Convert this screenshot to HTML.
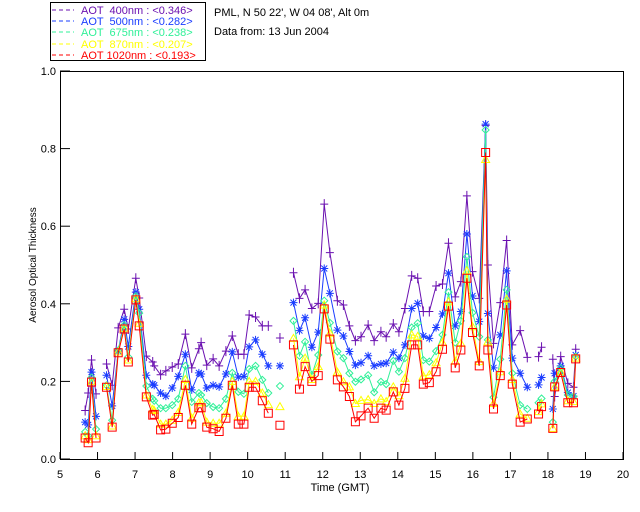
<!DOCTYPE html>
<html><head><meta charset="utf-8"><style>
body{margin:0;background:#fff;}
svg{display:block;font-family:"Liberation Sans",sans-serif;}
</style></head><body>
<svg id="chart" width="640" height="512" viewBox="0 0 640 512">
  <rect width="640" height="512" fill="#fff"/>
  <g font-size="11">
    <rect x="50.5" y="2.5" width="155" height="58" fill="#fff" stroke="#000"/>
    <g fill="#6a10b0"><line x1="52" y1="10" x2="74" y2="10" stroke="#6a10b0" stroke-dasharray="4,3"/><text x="81" y="14" xml:space="preserve">AOT  400nm : &lt;0.346&gt;</text></g>
    <g fill="#1a3cff"><line x1="52" y1="21" x2="74" y2="21" stroke="#1a3cff" stroke-dasharray="4,3"/><text x="81" y="25" xml:space="preserve">AOT  500nm : &lt;0.282&gt;</text></g>
    <g fill="#30f098"><line x1="52" y1="32" x2="74" y2="32" stroke="#30f098" stroke-dasharray="4,3"/><text x="81" y="36" xml:space="preserve">AOT  675nm : &lt;0.238&gt;</text></g>
    <g fill="#ffff00"><line x1="52" y1="44" x2="74" y2="44" stroke="#ffff00" stroke-dasharray="4,3"/><text x="81" y="48" xml:space="preserve">AOT  870nm : &lt;0.207&gt;</text></g>
    <g fill="#ff0000"><line x1="52" y1="55" x2="74" y2="55" stroke="#ff0000" stroke-dasharray="4,3"/><text x="81" y="59" xml:space="preserve">AOT 1020nm : &lt;0.193&gt;</text></g>
  </g>
  <text x="214" y="16" font-size="11">PML, N 50 22', W 04 08', Alt 0m</text>
  <text x="214" y="35" font-size="11">Data from: 13 Jun 2004</text>
  <rect x="60.5" y="71.5" width="563" height="388" fill="none" stroke="#000"/>
  <g id="axes" font-size="11"></g>
  <g id="series"></g>
  <text x="340" y="491" font-size="11" text-anchor="middle">Time (GMT)</text>
  <text transform="translate(36,265) rotate(-90)" font-size="10" text-anchor="middle">Aerosol Optical Thickness</text>
</svg>
<script>
const times=[5.67,5.75,5.84,5.96,6.24,6.39,6.55,6.71,6.82,7.02,7.11,7.30,7.47,7.51,7.68,7.82,7.99,8.15,8.34,8.51,8.70,8.76,8.91,9.08,9.24,9.42,9.59,9.75,9.90,10.04,10.21,10.39,10.55,10.86,
11.22,11.38,11.53,11.71,11.88,12.04,12.19,12.39,12.55,12.71,12.87,13.02,13.21,13.37,13.55,13.69,13.88,14.03,14.19,14.37,14.53,14.68,14.84,15.02,15.19,15.35,15.53,
15.68,15.84,15.99,16.17,16.34,16.40,16.55,16.73,16.90,17.05,17.26,17.45,17.75,17.83,18.13,18.18,18.34,18.53,18.68,18.74];
const aot400=[.125,.17,.255,.168,.245,.19,.338,.386,.335,.466,.415,.265,.25,.24,.217,.227,.237,.245,.322,.235,.284,.30,.242,.258,.24,.278,.317,.27,.27,.371,.366,.343,.343,.312,
.48,.414,.436,.388,.401,.657,.532,.408,.397,.343,.305,.315,.345,.305,.328,.315,.348,.328,.388,.472,.466,.38,.38,.446,.451,.556,.418,
.457,.678,.483,.414,.86,.5,.298,.403,.563,.294,.331,.262,.264,.288,.257,.161,.264,.195,.185,.283];
const aot500=[.095,.088,.224,.11,.216,.137,.278,.36,.29,.43,.386,.216,.193,.19,.17,.162,.183,.213,.27,.178,.222,.219,.183,.19,.186,.219,.276,.211,.213,.289,.307,.27,.24,.24,
.403,.331,.364,.288,.327,.491,.427,.332,.317,.277,.242,.248,.266,.24,.245,.247,.275,.26,.294,.388,.401,.317,.311,.339,.374,.479,.343,
.38,.58,.42,.354,.863,.375,.235,.32,.485,.26,.221,.185,.191,.21,.129,.221,.24,.171,.162,.268];
const aot675=[.07,.06,.21,.077,.19,.10,.28,.345,.263,.42,.376,.188,.155,.15,.131,.131,.139,.155,.24,.147,.17,.165,.144,.134,.131,.155,.222,.173,.168,.232,.24,.204,.17,.188,
.356,.266,.302,.216,.268,.408,.351,.277,.26,.221,.199,.205,.216,.172,.199,.193,.253,.225,.26,.339,.35,.255,.251,.278,.32,.43,.30,
.356,.521,.377,.315,.848,.307,.159,.257,.436,.221,.139,.129,.145,.156,.095,.2,.234,.165,.161,.264];
const aot870=[.06,.05,.2,.06,.187,.085,.276,.337,.255,.413,.35,.165,.128,.125,.09,.09,.1,.12,.205,.105,.145,.145,.095,.092,.092,.118,.2,.11,.11,.2,.2,.17,.14,.135,
.311,.212,.26,.205,.238,.397,.324,.224,.199,.186,.143,.151,.153,.143,.155,.148,.186,.163,.208,.32,.316,.214,.217,.248,.3,.405,.252,
.298,.485,.341,.251,.772,.302,.143,.225,.412,.205,.116,.105,.122,.142,.079,.186,.225,.15,.148,.26];
const aot1020=[.054,.042,.198,.054,.185,.082,.274,.335,.25,.41,.343,.16,.113,.115,.075,.077,.092,.107,.19,.09,.132,.132,.082,.078,.071,.105,.19,.09,.09,.185,.185,.15,.118,.087,
.294,.18,.238,.2,.215,.387,.309,.204,.186,.161,.096,.111,.131,.105,.131,.126,.173,.139,.182,.294,.294,.193,.197,.225,.283,.394,.235,
.281,.466,.326,.24,.79,.281,.129,.215,.397,.193,.095,.103,.116,.135,.079,.186,.223,.145,.145,.258];
const xTicks=[5,6,7,8,9,10,11,12,13,14,15,16,17,18,19,20];
const yTicks=[0.0,0.2,0.4,0.6,0.8,1.0];

const NS='http://www.w3.org/2000/svg';
const X0=60,X1=623,Y0=459,Y1=71;
function xs(t){return X0+(t-5)/15*(X1-X0);}
function ys(v){return Y0-v*(Y0-Y1);}
function mk(tag,at,parent){const e=document.createElementNS(NS,tag);for(const k in at)e.setAttribute(k,at[k]);parent.appendChild(e);return e;}
const axes=document.getElementById('axes');
xTicks.forEach(t=>{
  const l=mk('line',{x1:xs(t),x2:xs(t),y1:Y0,y2:Y0-7,stroke:'#000'},axes);
  
  
  const tx=mk('text',{x:xs(t),y:478,'text-anchor':'middle'},axes);
  tx.textContent=String(t);
  
  
});
yTicks.forEach(v=>{
  const l=mk('line',{x1:X0,x2:X0+10,y1:ys(v),y2:ys(v),stroke:'#000'},axes);
  
  
  const tx=mk('text',{x:56,y:ys(v)+4,'text-anchor':'end'},axes);
  tx.textContent=v.toFixed(1);
  
  
});
const seriesG=document.getElementById('series');
const defs=[
 {vals:aot400,color:'#6a10b0',m:'plus',name:'series-400nm'},
 {vals:aot500,color:'#1a3cff',m:'star',name:'series-500nm'},
 {vals:aot675,color:'#30f098',m:'diamond',name:'series-675nm'},
 {vals:aot870,color:'#ffff00',m:'tri',name:'series-870nm'},
 {vals:aot1020,color:'#ff0000',m:'square',name:'series-1020nm'}
];
defs.forEach(s=>{
  const g=mk('g',{},seriesG);
  
  
  let segs=[],cur=[];
  for(let i=0;i<times.length;i++){
    if(i>0&&times[i]-times[i-1]>0.25){segs.push(cur);cur=[];}
    cur.push([xs(times[i]),ys(s.vals[i])]);
  }
  segs.push(cur);
  segs.forEach(sg=>{
    if(sg.length>1){
      const p=mk('polyline',{points:sg.map(p=>p[0].toFixed(1)+','+p[1].toFixed(1)).join(' '),fill:'none',stroke:s.color,'stroke-width':1},g);
      
      
    }
  });
  for(let i=0;i<times.length;i++){
    const x=xs(times[i]),y=ys(s.vals[i]);let d;
    if(s.m==='plus')d=`M${x-4},${y}H${x+4}M${x},${y-5}V${y+5}`;
    else if(s.m==='star')d=`M${x-4},${y}H${x+4}M${x},${y-4}V${y+4}M${x-3},${y-3}L${x+3},${y+3}M${x-3},${y+3}L${x+3},${y-3}`;
    else if(s.m==='diamond')d=`M${x},${y-3.5}L${x+3.5},${y}L${x},${y+3.5}L${x-3.5},${y}Z`;
    else if(s.m==='tri')d=`M${x},${y-4}L${x+4},${y+3}L${x-4},${y+3}Z`;
    else d=`M${x-4},${y-4}H${x+4}V${y+4}H${x-4}Z`;
    const m=mk('path',{d:d,fill:'none',stroke:s.color,'stroke-width':1},g);
    
    
  }
});
</script>
</body></html>
